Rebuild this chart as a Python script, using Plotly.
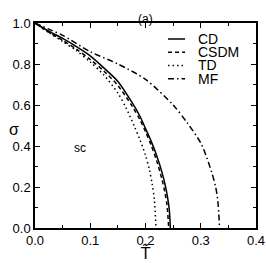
import plotly.graph_objects as go

# Data
T_cd = [0, 0.025, 0.05, 0.075, 0.1, 0.125, 0.15, 0.175, 0.19, 0.2, 0.21, 0.22, 0.23, 0.236, 0.24, 0.243, 0.245]
s_cd = [1.0, 0.96, 0.925, 0.885, 0.84, 0.78, 0.715, 0.615, 0.545, 0.485, 0.425, 0.355, 0.27, 0.205, 0.148, 0.09, 0.0]

T_csdm = [0, 0.025, 0.05, 0.075, 0.1, 0.125, 0.15, 0.175, 0.19, 0.2, 0.21, 0.22, 0.23, 0.235, 0.239, 0.242]
s_csdm = [1.0, 0.955, 0.915, 0.872, 0.822, 0.765, 0.695, 0.598, 0.528, 0.47, 0.405, 0.33, 0.235, 0.175, 0.11, 0.0]

T_td = [0, 0.025, 0.05, 0.075, 0.1, 0.125, 0.15, 0.165, 0.18, 0.19, 0.2, 0.207, 0.212, 0.216, 0.219]
s_td = [1.0, 0.953, 0.91, 0.865, 0.81, 0.745, 0.658, 0.585, 0.495, 0.43, 0.355, 0.285, 0.215, 0.14, 0.0]

T_mf = [0, 0.025, 0.05, 0.1, 0.15, 0.2, 0.25, 0.275, 0.3, 0.31, 0.32, 0.327, 0.331, 0.334]
s_mf = [1.0, 0.97, 0.94, 0.86, 0.80, 0.725, 0.60, 0.515, 0.415, 0.35, 0.27, 0.2, 0.13, 0.0]

names = ["CD", "CSDM", "TD", "MF"]
dashes = ["solid", "4px,3px", "1.5px,3px", "6px,3px,1.5px,3px"]
xs = [T_cd, T_csdm, T_td, T_mf]
ys = [s_cd, s_csdm, s_td, s_mf]

x_ticks = [0, 0.1, 0.2, 0.3, 0.4]
x_labels = ["0.0", "0.1", "0.2", "0.3", "0.4"]
y_ticks = [0, 0.2, 0.4, 0.6, 0.8, 1.0]
y_labels = ["0.0", "0.2", "0.4", "0.6", "0.8", "1.0"]

fig = go.Figure()
for n, d, x, y in zip(names, dashes, xs, ys):
    fig.add_trace(go.Scatter(x=x, y=y, mode="lines", name=n, showlegend=False, hoverinfo="skip",
                             line=dict(color="black", width=1.5, dash=d, shape="spline", smoothing=0.8)))

font = dict(family="Liberation Sans, Arial, sans-serif", color="black")
axis_common = dict(showline=True, linecolor="black", linewidth=1.5, mirror="allticks",
                   ticks="inside", ticklen=5, tickwidth=1, tickcolor="black", automargin=False,
                   showgrid=False, zeroline=False, tickfont=dict(size=13, **font),
                   minor=dict(ticks="inside", ticklen=3, tickcolor="black"))

# manual legend (compact spacing as in the reference)
leg_y = [0.922, 0.857, 0.793, 0.728]
shapes = []
annotations = []
for n, d, yy in zip(names, dashes, leg_y):
    shapes.append(dict(type="line", xref="paper", yref="paper", x0=0.602, x1=0.679, y0=yy, y1=yy,
                       line=dict(color="black", width=1.5, dash=d)))
    annotations.append(dict(text=n, x=0.735, y=yy, xref="paper", yref="paper", xanchor="left",
                            yanchor="middle", showarrow=False, borderpad=0,
                            font=dict(size=14, **font)))

annotations += [
    dict(text="(a)", x=0.5, y=1.0, xref="paper", yref="paper", yshift=13,
         showarrow=False, font=dict(size=12, **font)),
    dict(text="σ", x=-0.125, y=0.48, xref="paper", yref="paper", showarrow=False,
         font=dict(size=16, **font)),
    dict(text="T\u0303", x=0.5, y=-0.125, xref="paper", yref="paper", yanchor="middle",
         showarrow=False, borderpad=0, font=dict(size=15, family="DejaVu Sans", color="black")),
    dict(text="sc", x=0.082, y=0.39, xref="x", yref="y", showarrow=False,
         font=dict(size=12, **font)),
]

fig.update_layout(
    width=266, height=263, margin=dict(l=35, r=10, t=23, b=35),
    paper_bgcolor="white", plot_bgcolor="white",
    showlegend=False,
    xaxis=dict(range=[0, 0.4], tickvals=x_ticks, ticktext=x_labels, **axis_common),
    yaxis=dict(range=[0, 1.0], tickvals=y_ticks, ticktext=y_labels, **axis_common),
    shapes=shapes,
    annotations=annotations,
)
fig.update_xaxes(minor=dict(dtick=0.05))
fig.update_yaxes(minor=dict(dtick=0.1))
fig.write_html("out.html", config={"displayModeBar": False},
               post_script="document.body.style.margin='0';document.body.style.overflow='hidden';")
